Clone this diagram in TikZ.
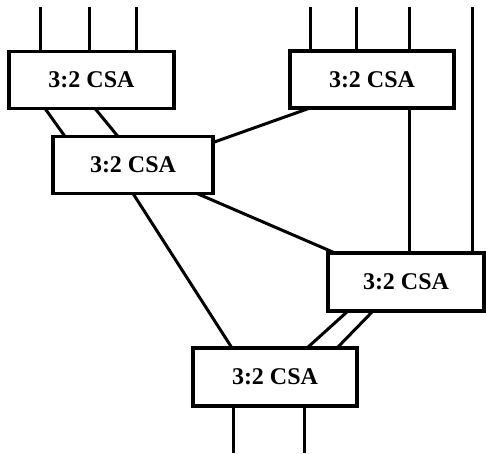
\documentclass[tikz,border=0pt]{standalone}
\usepackage{fontspec}
\setmainfont{Liberation Serif}
\usetikzlibrary{calc}

\tikzset{
 csa/.style={draw, line width=3.2pt, outer sep=0pt, minimum width=164pt, minimum height=57pt, font=\fontsize{24}{27}\selectfont\bfseries},
 wire/.style={line width=3pt}
}

\begin{document}
\begin{tikzpicture}[x=1pt,y=-1pt]
\useasboundingbox (0,0) rectangle (486,453);
% adders
\node[csa, minimum width=165pt] (A) at (91.5,80)  {3:2 CSA};
\node[csa, minimum width=160pt] (B) at (133,165)  {3:2 CSA};
\node[csa]                      (C) at (372,79.5) {3:2 CSA};
\node[csa, minimum width=156pt, minimum height=58pt] (D) at (406,282) {3:2 CSA};
\node[csa, minimum height=58pt] (E) at (275,377)  {3:2 CSA};
% free ends
\coordinate (top) at (0,7);
\coordinate (bot) at (0,453);
\coordinate (far) at (472,7);
% inputs
\foreach \x in {31,80,127} {
 \draw[wire] ([xshift=\x]A.north west) -- ([xshift=\x]A.north west |- top);
}
\foreach \x in {20,66,119} {
 \draw[wire] ([xshift=\x]C.north west) -- ([xshift=\x]C.north west |- top);
}
\draw[wire] (far) -- ([xshift=144]D.north west);
% A to B
\draw[wire] ([xshift=36]A.south west) -- ([xshift=12]B.north west);
\draw[wire] ([xshift=86]A.south west) -- ([xshift=65]B.north west);
% C to B, C to D
\draw[wire] ([xshift=20]C.south west) -- ([yshift=-6]B.north east);
\draw[wire] ([xshift=119]C.south west) -- ([xshift=81]D.north west);
% B to D
\draw[wire] ([xshift=-16]B.south east) -- ([xshift=7]D.north west);
% to E
\draw[wire] ([xshift=80]B.south west) -- ([xshift=39]E.north west);
\draw[wire] ([xshift=20]D.south west) -- ([xshift=114]E.north west);
\draw[wire] ([xshift=45]D.south west) -- ([xshift=144]E.north west);
% outputs
\foreach \x in {40,111} {
 \draw[wire] ([xshift=\x]E.south west) -- ([xshift=\x]E.south west |- bot);
}
\end{tikzpicture}
\end{document}
